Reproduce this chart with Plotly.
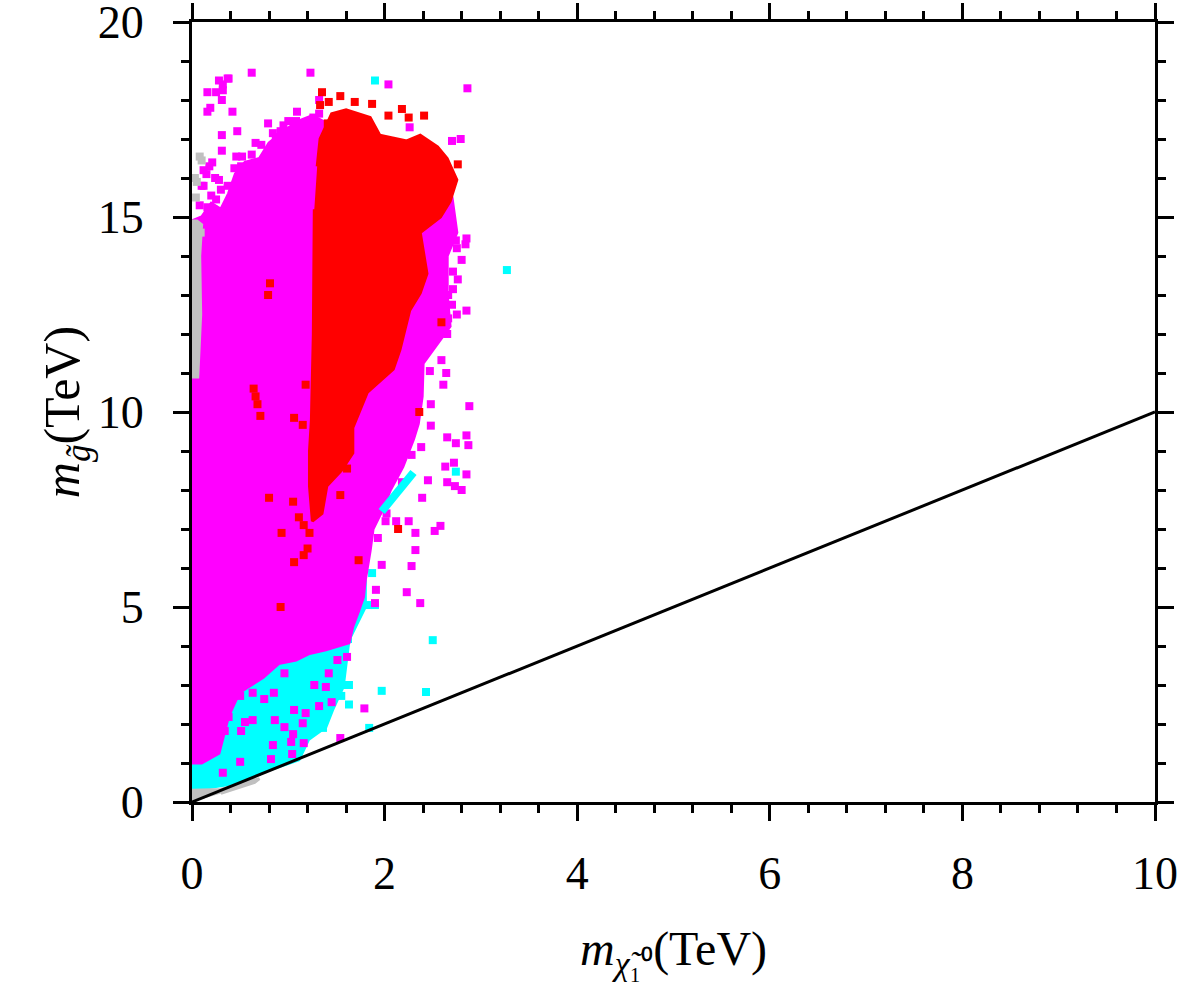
"""Gluino mass vs neutralino mass scan, redrawn with Plotly."""

import plotly.graph_objects as go

# ---- dense regions (polygon outlines in TeV) ----
cyan_region_x = [0.0, 0.46, 0.8, 1.11, 1.21, 1.39, 1.46, 1.57, 1.63, 1.8, 1.8, 1.0, 0.0]
cyan_region_y = [0.3, 0.48, 0.82, 1.08, 1.6, 1.92, 2.36, 2.95, 4.15, 5.0, 5.9, 4.0, 5.0]

magenta_region_x = [0.0, 0.1, 0.2, 0.3, 0.38, 0.45, 0.55, 0.7, 0.8, 0.95, 1.1, 1.25, 1.4,
                    1.6, 2.0, 2.3, 2.6, 2.7, 2.75,
                    2.65, 2.65, 2.68, 2.5, 2.4, 2.39, 2.35, 2.3, 2.19, 2.06, 1.98, 1.88,
                    1.85, 1.8, 1.78, 1.73, 1.67, 1.63, 1.39, 1.21, 1.08, 0.9, 0.74, 0.49,
                    0.38, 0.28, 0.1, 0.0]
magenta_region_y = [14.9, 15.0, 15.35, 15.2, 15.6, 16.1, 16.4, 16.5, 16.9, 17.2, 17.45, 17.6, 17.4,
                    17.2, 16.8, 16.5, 16.2, 15.5, 14.6,
                    14.0, 13.0, 12.2, 11.6, 11.25, 10.4, 9.7, 9.3, 8.6, 8.0, 7.5, 7.0,
                    6.45, 5.7, 5.25, 4.9, 4.5, 4.08, 3.9, 3.8, 3.64, 3.55, 3.2, 2.8,
                    2.2, 1.25, 1.0, 1.0]

gray_strip_x = [-0.03, 0.06, 0.09, 0.08, 0.1, 0.05, -0.03]
gray_strip_y = [10.9, 10.9, 12.5, 14.0, 14.8, 14.9, 14.9]
gray_corner_x = [0.0, 0.0, 0.3, 0.7, 0.65, 0.3]
gray_corner_y = [0.0, 0.3, 0.32, 0.6, 0.5, 0.22]

red_region_x = [1.30, 1.33, 1.45, 1.6, 1.85, 1.95, 2.23, 2.37, 2.55, 2.65, 2.75, 2.68, 2.58, 2.37,
                2.44, 2.37, 2.26, 2.16, 2.09, 1.82, 1.67, 1.67, 1.55, 1.4, 1.35, 1.25,
                1.22, 1.22, 1.24, 1.26, 1.27]
red_region_y = [16.3, 17.0, 17.65, 17.75, 17.55, 17.1, 16.95, 17.1, 16.8, 16.5, 15.95, 15.4, 15.0,
                14.6, 13.55, 13.05, 12.6, 11.6, 11.1, 10.5, 9.6, 8.95, 8.5, 8.1, 7.4, 7.2,
                8.1, 9.0, 9.8, 12.0, 15.2]

cyan_streak_x = [1.97, 2.02, 2.07, 2.12, 2.17, 2.22, 2.27, 2.3]
cyan_streak_y = [7.45, 7.6, 7.75, 7.9, 8.05, 8.2, 8.35, 8.45]

# ---- sparse points ----
magenta_x = [0.62, 1.23, 2.04, 0.16, 0.28, 0.37, 0.32, 0.31, 0.19, 0.16, 0.42, 0.31, 0.47,
             0.31, 0.79, 1.09, 0.66, 0.46, 0.21, 1.05, 1.16, 0.84, 0.69, 0.74, 0.1,
             0.32, 0.38, 0.25, 1.0, 1.08, 0.95, 0.92, 0.87, 0.72, 0.18, 0.15, 0.7, 0.51,
             0.58, 0.75, 0.12, 0.28, 0.37, 0.63, 0.25, 0.42, 0.22, 0.58, 0.77, 0.84,
             0.89, 0.98, 1.01, 1.11, 1.18, 1.26, 1.32, 1.32,
             0.2, 0.3, 0.16, 0.33, 0.08, 0.24, 0.12, 0.44, 0.52, 0.62,
             2.86, 2.26, 2.7, 2.79, 2.59, 2.74, 2.85, 2.84, 2.75, 2.8, 2.71, 2.76, 2.71,
             2.66, 2.7, 2.85, 2.75, 2.66, 2.65,
             2.59, 2.47, 2.64, 2.61, 2.48, 2.88, 2.48, 2.65, 2.74, 2.85, 2.87, 2.38, 2.28,
             2.63, 2.72, 2.85, 2.45, 2.65, 2.73, 2.8, 2.18, 2.39, 2.02, 2.01, 2.12, 2.25,
             2.32, 2.52, 2.58, 1.93, 2.32, 1.97, 2.28, 1.91, 2.23, 1.9, 2.37,
             1.61, 1.79, 1.54, 1.45, 1.32, 1.16, 1.04, 0.82, 0.5, 0.32, 0.84, 0.96, 0.51,
             0.86, 0.63, 0.55, 0.38, 0.34, 0.85, 0.96, 1.06, 1.18, 1.15, 1.05, 1.03,
             1.39, 1.27, 1.51, 1.42, 0.75, 0.5, 0.63, 0.15, 0.22]
magenta_y = [18.7, 18.7, 18.4, 18.2, 18.5, 18.55, 18.25, 18.0, 17.8, 17.7, 17.7, 17.1, 17.2,
             16.7, 17.4, 17.7, 16.9, 16.55, 16.4, 17.2, 17.3, 17.15, 16.3, 16.0, 15.8,
             18.4, 18.55, 18.2, 17.46, 17.46, 17.35, 17.2, 17.05, 16.85, 16.3, 16.1, 16.3, 16.3,
             16.1, 16.0, 15.8, 15.95, 15.8, 15.7, 15.45, 15.35, 15.2, 15.35, 15.45, 15.6,
             16.45, 16.55, 16.8, 17.0, 17.05, 17.55, 17.65, 18.0,
             15.55, 15.7, 15.25, 15.1, 15.3, 16.0, 16.2, 16.25, 16.55, 16.6,
             18.3, 17.3, 16.95, 17.0, 14.6, 14.4, 14.45, 14.3, 14.2, 13.9, 13.6, 13.4, 13.15,
             13.0, 12.75, 12.6, 12.5, 12.4, 12.0,
             11.33, 11.05, 11.0, 10.7, 10.2, 10.15, 9.65, 9.35, 9.2, 9.4, 9.15, 9.1, 8.9,
             8.6, 8.7, 8.4, 8.25, 8.2, 8.1, 8.0, 8.2, 7.8, 7.4, 7.2, 7.2, 7.2,
             6.9, 6.95, 7.08, 6.77, 6.46, 6.08, 6.05, 5.44, 5.38, 5.1, 5.1,
             3.72, 2.4, 1.64, 2.56, 2.46, 1.51, 1.23, 1.1, 1.03, 0.75, 1.46, 1.92, 1.82,
             2.1, 2.1, 2.05, 2.18, 1.82, 2.8, 3.3, 2.36, 2.28, 2.02, 1.74, 1.54,
             2.95, 3.0, 3.64, 3.3, 2.64, 2.72, 2.8, 1.6, 1.33]

red_x = [1.35, 1.54, 1.69, 1.87, 2.18, 2.41, 2.25, 2.04, 1.42, 1.33, 1.41, 1.78,
         0.81, 0.79, 0.64, 0.66, 0.68, 0.71, 1.06, 1.15, 0.8, 1.05, 0.93, 1.11, 1.16,
         1.22, 1.16, 1.06, 1.2, 1.18, 0.92, 2.14, 1.73, 1.61, 1.54, 2.59, 2.76, 2.36]
red_y = [18.2, 18.1, 17.95, 17.9, 17.77, 17.6, 17.55, 17.6, 17.95, 17.87, 17.4, 17.3,
         13.3, 13.0, 10.6, 10.4, 10.2, 9.9, 9.85, 9.67, 7.8, 7.7, 6.9, 7.3, 7.1,
         6.9, 6.33, 6.15, 6.5, 10.7, 5.0, 7.0, 6.2, 8.55, 7.87, 12.3, 16.35, 10.0]

cyan_x = [3.27, 1.9, 2.5, 1.97, 2.43, 1.84, 1.55, 1.63, 1.55, 1.63, 1.36, 1.62, 1.83,
          1.87, 1.9, 2.74]
cyan_y = [13.64, 18.5, 4.15, 2.85, 2.82, 1.9, 3.0, 3.0, 2.72, 2.5, 1.9, 4.18, 5.05,
          5.87, 5.05, 8.47]

gray_x = [0.08, 0.1, 0.05, 0.03, 0.09, 0.04]
gray_y = [16.55, 16.45, 15.9, 16.0, 14.6, 15.5]

diag_x = [0, 10]
diag_y = [0, 10]

x_ticks = [0, 2, 4, 6, 8, 10]
y_ticks = [0, 5, 10, 15, 20]

MAGENTA = "#ff00ff"
RED = "#ff0000"
CYAN = "#00ffff"
GRAY = "#c0c0c0"
FONT = "Liberation Serif"


def region(xs, ys, color):
    return go.Scatter(x=xs, y=ys, mode="lines", fill="toself", fillcolor=color,
                      line={"color": color, "width": 3}, hoverinfo="skip", showlegend=False)


def points(xs, ys, color):
    return go.Scatter(x=xs, y=ys, mode="markers",
                      marker={"symbol": "square", "size": 8, "color": color, "line": {"width": 0}},
                      hoverinfo="skip", showlegend=False)


fig = go.Figure()
fig.add_trace(region(cyan_region_x, cyan_region_y, CYAN))
fig.add_trace(points(cyan_x, cyan_y, CYAN))
fig.add_trace(region(magenta_region_x, magenta_region_y, MAGENTA))
fig.add_trace(points(magenta_x, magenta_y, MAGENTA))
fig.add_trace(go.Scatter(x=cyan_streak_x, y=cyan_streak_y, mode="lines",
                         line={"color": CYAN, "width": 8}, hoverinfo="skip", showlegend=False))
fig.add_trace(region(gray_strip_x, gray_strip_y, GRAY))
fig.add_trace(region(gray_corner_x, gray_corner_y, GRAY))
fig.add_trace(points(gray_x, gray_y, GRAY))
fig.add_trace(region(red_region_x, red_region_y, RED))
fig.add_trace(points(red_x, red_y, RED))
fig.add_trace(go.Scatter(x=diag_x, y=diag_y, mode="lines", line={"color": "black", "width": 3},
                         hoverinfo="skip", showlegend=False))

axis_common = dict(
    showline=True, linecolor="black", linewidth=3, mirror="ticks",
    ticks="outside", ticklen=16, tickwidth=3, tickcolor="black",
    showgrid=False, zeroline=False, automargin=False, ticklabeloverflow="allow",
    tickfont={"family": FONT, "size": 46, "color": "black"},
)

fig.update_xaxes(
    range=[0, 10], tickvals=x_ticks, ticktext=[str(t) for t in x_ticks],
    minor={"dtick": 0.4, "ticks": "outside", "ticklen": 8, "tickwidth": 3, "tickcolor": "black",
           "showgrid": False},
    ticklabelstandoff=13,
    title={"text": "<i>m</i><sub><i>χ̃</i>₁⁰</sub>(TeV)", "font": {"family": FONT, "size": 48},
           "standoff": 34},
    **axis_common,
)
fig.update_yaxes(
    range=[0, 20], tickvals=y_ticks, ticktext=[str(t) for t in y_ticks],
    minor={"dtick": 1, "ticks": "outside", "ticklen": 8, "tickwidth": 3, "tickcolor": "black",
           "showgrid": False},
    ticklabelstandoff=20,
    title={"text": "<i>m</i><sub><i>g̃</i></sub>(TeV)", "font": {"family": FONT, "size": 50},
           "standoff": 0},
    **axis_common,
)

fig.update_layout(
    width=1183, height=992, autosize=False,
    margin={"l": 192, "r": 28, "t": 22, "b": 190},
    paper_bgcolor="white", plot_bgcolor="white",
    font={"family": FONT, "color": "black"},
)

fig.write_html("out.html", config={"displayModeBar": False},
               post_script="document.body.style.margin='0';")
